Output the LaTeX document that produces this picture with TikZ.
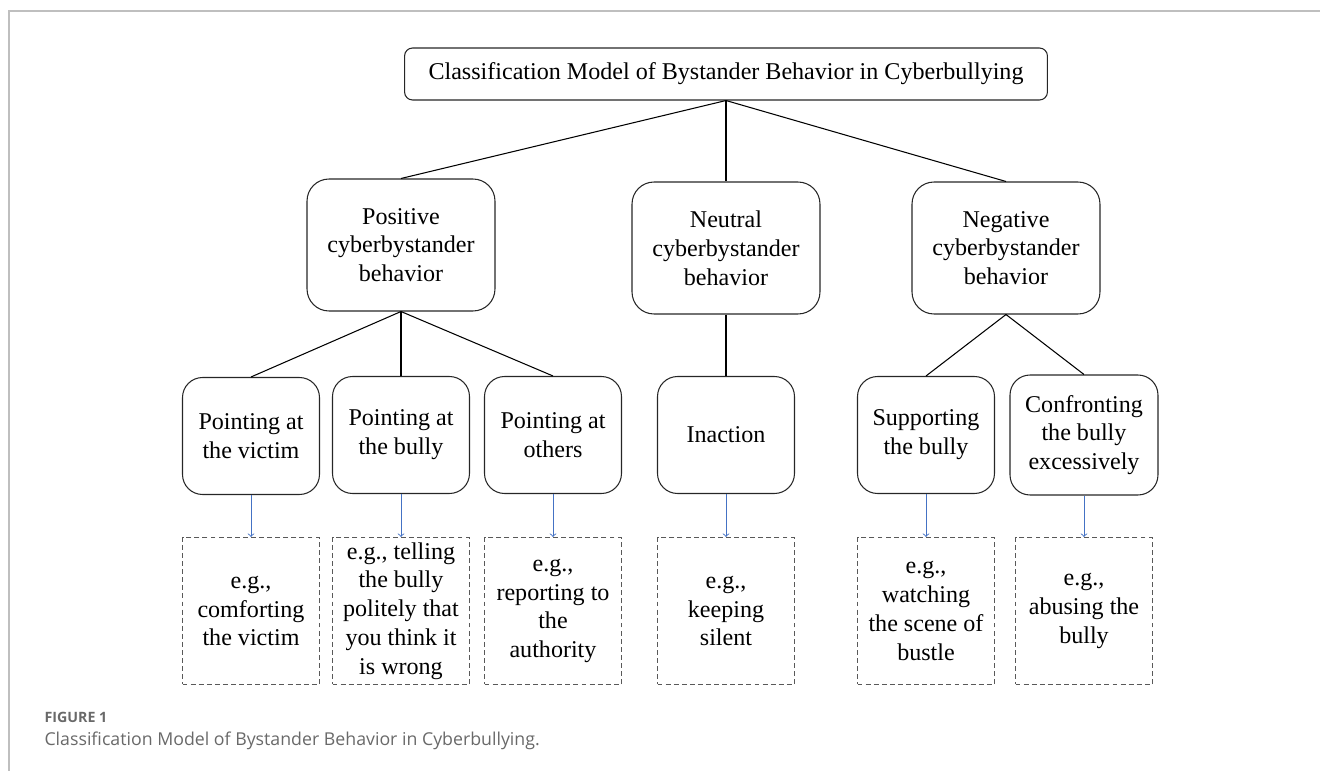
\documentclass[tikz,border=0pt]{standalone}
\usepackage{fontspec}
\setmainfont{Liberation Serif}
\newfontfamily\capfont{Open Sans}
\usetikzlibrary{positioning}
\definecolor{linkblue}{RGB}{68,114,196}
\definecolor{capgray}{RGB}{105,105,105}

\begin{document}
\begin{tikzpicture}[x=0.02cm,y=-0.02cm,line width=0.6pt,font=\fontsize{13.7}{16.4}\selectfont]
    \tikzstyle{box}=[draw=black!85,align=center,inner sep=0pt]
    \tikzstyle{title box}=[box,rounded corners=0.16cm,minimum width=12.86cm,minimum height=1.04cm]
    \tikzstyle{cat box}=[box,rounded corners=0.44cm,minimum width=3.76cm,minimum height=2.64cm]
    \tikzstyle{sub box}=[box,rounded corners=0.4cm,minimum width=2.74cm,minimum height=2.34cm]
    \tikzstyle{ex box}=[box,draw=black!65,dashed,dash pattern=on 2.8pt off 1.8pt,minimum width=2.74cm,minimum height=2.94cm]
    \tikzstyle{link}=[->,draw=linkblue,line width=0.5pt]

    \useasboundingbox (0,0) rectangle (1320,771);

    % figure frame
    \draw[black!25,line width=1pt] (9,771) -- (9,11) -- (1320,11);

    \node[title box] (R) at (726, 74) {Classification Model of Bystander Behavior in Cyberbullying};

    \node[cat box] (P) at (401, 245) {Positive\\cyberbystander\\behavior};
    \node[cat box] (N) at (726, 248) {Neutral\\cyberbystander\\behavior};
    \node[cat box] (G) at (1006, 248) {Negative\\cyberbystander\\behavior};

    \node[sub box] (S-1) at (251, 436) {Pointing at\\the victim};
    \node[sub box] (S-2) at (401, 435) {Pointing at\\the bully};
    \node[sub box] (S-3) at (553, 435) {Pointing at\\others};
    \node[sub box] (S-4) at (726, 435) {Inaction};
    \node[sub box] (S-5) at (926, 435) {Supporting\\the bully};
    \node[sub box,minimum width=2.96cm,minimum height=2.4cm] (S-6) at (1084, 435) {Confronting\\the bully\\excessively};

    \node[ex box] (E-1) at (251, 611) {e.g.,\\comforting\\the victim};
    \node[ex box] (E-2) at (401, 611) {e.g., telling\\the bully\\politely that\\you think it\\is wrong};
    \node[ex box] (E-3) at (553, 611) {e.g.,\\reporting to\\the\\authority};
    \node[ex box] (E-4) at (726, 611) {e.g.,\\keeping\\silent};
    \node[ex box] (E-5) at (926, 611) {e.g.,\\watching\\the scene of\\bustle};
    \node[ex box] (E-6) at (1084, 611) {e.g.,\\abusing the\\bully};

    % Connect the model to the three kinds of behavior
    \foreach \dest in {P,N,G}
        \draw (R.south) -- (\dest.north);

    % Connect each kind with its subtypes
    \foreach \dest in {1,2,3}
        \draw (P.south) -- (S-\dest.north);
    \draw (N.south) -- (S-4.north);
    \foreach \dest in {5,6}
        \draw (G.south) -- (S-\dest.north);

    % Examples
    \foreach \i in {1,...,6}
        \draw[link] (S-\i) -- (E-\i);

    % Caption
    \node[anchor=base west,inner sep=0pt,text=capgray,font=\capfont\fontsize{8.1}{10}\selectfont\bfseries] (fig) at (44,722) {FIGURE 1};
    \node[anchor=base west,inner sep=0pt,text=capgray,font=\capfont\fontsize{10.1}{12}\selectfont] (cap) at (44,745) {Classification Model of Bystander Behavior in Cyberbullying.};

\end{tikzpicture}
\end{document}
